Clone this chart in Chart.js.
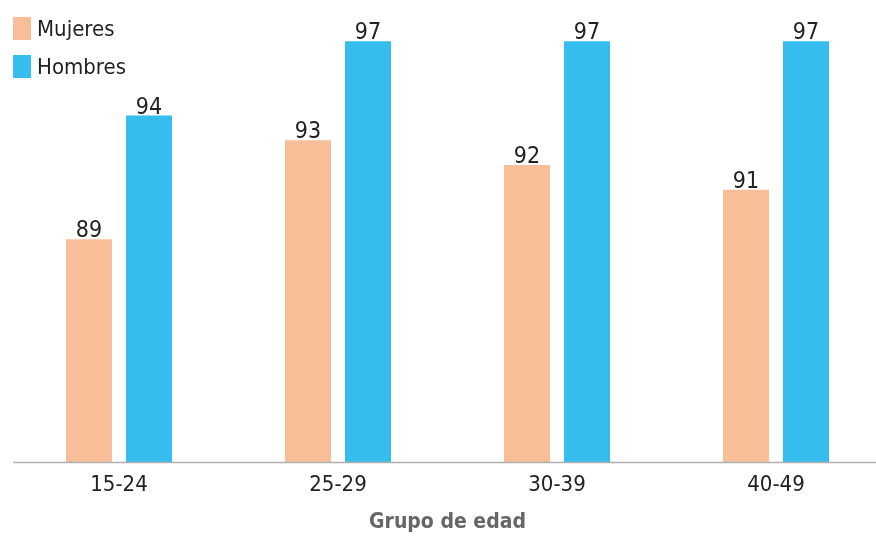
<!DOCTYPE html>
<html>
<head>
<meta charset="utf-8">
<script src="https://cdn.jsdelivr.net/npm/chart.js@4"></script>
<style>
    html, body { margin: 0; padding: 0; background: #fff; overflow: hidden; }
    #wrap { position: relative; width: 876px; height: 538px; }
    .legend { position: absolute; left: 13px; top: 9px; font-family: "Liberation Sans Narrow", "DejaVu Sans Condensed", sans-serif; font-size: 22px; color: #222; }
    .legend .item { display: flex; align-items: center; height: 38px; }
    .legend .sw { width: 18px; height: 23px; margin-right: 6px; }
</style>
</head>
<body>
<div id="wrap">
    <canvas id="barChart"></canvas>
    <div class="legend" id="legend"></div>
</div>
<script>
const categories = ['15-24', '25-29', '30-39', '40-49'];
const mujeres = [89, 93, 92, 91];
const hombres = [94, 97, 97, 97];
const seriesNames = ['Mujeres', 'Hombres'];
const axisTitle = 'Grupo de edad';

const COLORS = {
    mujeres: '#f7be98',
    hombres: '#35bdee',
    text: '#222222',
    title: '#666666',
    axis: '#b0b0b0',
};
const FONT = '"Liberation Sans Narrow", "DejaVu Sans Condensed", sans-serif';

// etiquetas de valor encima de cada barra
const valueLabels = {
    id: 'valueLabels',
    afterDatasetsDraw(chart) {
        const ctx = chart.ctx;
        ctx.save();
        ctx.font = '23px ' + FONT;
        ctx.fillStyle = COLORS.text;
        ctx.textAlign = 'center';
        ctx.textBaseline = 'alphabetic';
        chart.data.datasets.forEach((ds, di) => {
            chart.getDatasetMeta(di).data.forEach((bar, i) => {
                ctx.fillText(ds.data[i], bar.x, bar.y - 2);
            });
        });
        ctx.restore();
    }
};

// línea base a todo el ancho
const baseLine = {
    id: 'baseLine',
    afterDatasetsDraw(chart) {
        const ctx = chart.ctx;
        const y = chart.scales.y.getPixelForValue(80);
        ctx.save();
        ctx.strokeStyle = COLORS.axis;
        ctx.lineWidth = 1.5;
        ctx.beginPath();
        ctx.moveTo(13, y + 0.5);
        ctx.lineTo(chart.width, y + 0.5);
        ctx.stroke();
        ctx.restore();
    }
};

const legendEl = document.getElementById('legend');
[COLORS.mujeres, COLORS.hombres].forEach((c, i) => {
    const item = document.createElement('div');
    item.className = 'item';
    item.innerHTML = '<span class="sw" style="background:' + c + '"></span><span>' + seriesNames[i] + '</span>';
    legendEl.appendChild(item);
});

const barClip = { left: 60, right: 60, top: 10, bottom: 0 };

new Chart(document.getElementById('barChart'), {
    type: 'bar',
    data: {
        labels: categories,
        datasets: [
            { label: seriesNames[0], data: mujeres, backgroundColor: COLORS.mujeres, clip: barClip },
            { label: seriesNames[1], data: hombres, backgroundColor: COLORS.hombres, clip: barClip }
        ]
    },
    options: {
        responsive: true,
        maintainAspectRatio: false,
        animation: false,
        categoryPercentage: 0.548,
        barPercentage: 0.767,
        layout: { padding: { left: 119, right: 100, top: 16.5, bottom: 0 } },
        plugins: {
            legend: { display: false },
            tooltip: { enabled: false }
        },
        scales: {
            x: {
                offset: false,
                grid: { display: false },
                border: { display: false },
                ticks: { color: COLORS.text, font: { family: FONT, size: 22 }, padding: 2 },
                title: {
                    display: true,
                    text: axisTitle,
                    color: COLORS.title,
                    font: { family: FONT, size: 21, weight: 'bold' },
                    padding: { top: 0, bottom: 3 }
                },
                afterFit(scale) { scale.height = 76; }
            },
            y: {
                display: false,
                min: 80,
                max: 98
            }
        }
    },
    plugins: [valueLabels, baseLine]
});
</script>
</body>
</html>
